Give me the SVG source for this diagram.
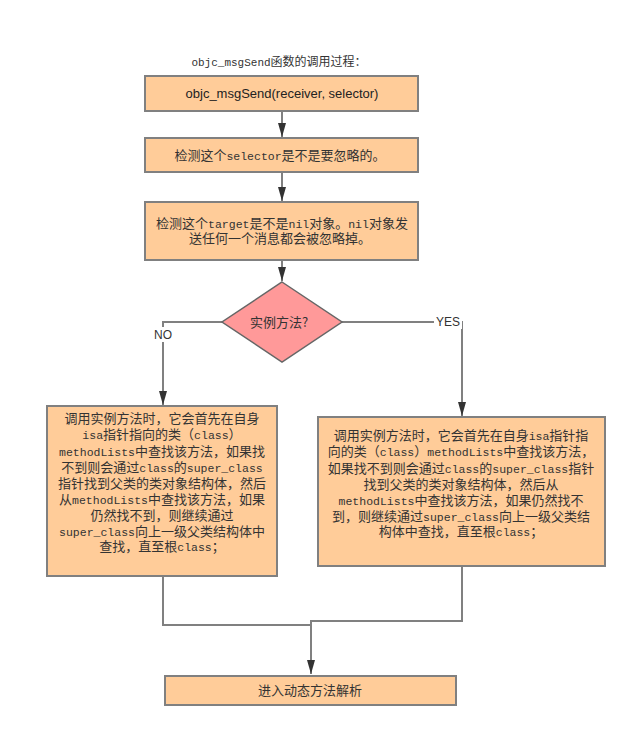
<svg xmlns="http://www.w3.org/2000/svg" width="636" height="736" viewBox="0 0 636 736">
<style>
.box{fill:#FFCC99;stroke:#808080;stroke-width:2}
.dia{fill:#FF9999;stroke:#666666;stroke-width:1.5}
.ln{fill:none;stroke:#808080;stroke-width:2}
.ln2{fill:none;stroke:#333333;stroke-width:1.2}
.t{font-family:"Noto Sans CJK SC","Noto Sans",sans-serif;font-size:13px;fill:#333333;text-anchor:middle}
.m{font-family:"Liberation Mono","DejaVu Sans Mono",monospace;font-size:11.5px}
.s{font-family:"Liberation Sans",Arial,sans-serif;font-size:13px;fill:#222222;text-anchor:middle}
.lbl{font-family:"Liberation Sans",Arial,sans-serif;font-size:12px;fill:#333333;text-anchor:middle}
</style>
<defs>
<marker id="ah" markerWidth="10" markerHeight="14" refX="9" refY="5" orient="auto" markerUnits="userSpaceOnUse" viewBox="0 0 10 10">
<path d="M0,0 L10,5 L0,10 z" fill="#333333"/>
</marker>
<marker id="ah2" viewBox="0 0 14 8" markerWidth="14" markerHeight="8" refX="14" refY="4" orient="auto" markerUnits="userSpaceOnUse">
<path d="M0,0 L14,4 L0,8 z" fill="#333333"/>
</marker>
</defs>
<rect width="636" height="736" fill="#ffffff"/>
<text class="t" x="279" y="66" style="font-size:12px"><tspan class="m" style="font-size:11px">objc_msgSend</tspan>函数的调用过程：</text>
<g id="connectors">
<line class="ln" x1="282" y1="112" x2="282" y2="137" marker-end="url(#ah2)"/>
<line class="ln" x1="282" y1="173" x2="282" y2="201" marker-end="url(#ah2)"/>
<line class="ln" x1="282" y1="261" x2="282" y2="281" marker-end="url(#ah2)"/>
<polyline class="ln" points="222,322 163,322 163,405" marker-end="url(#ah2)"/>
<polyline class="ln" points="342,322 462,322 462,416" marker-end="url(#ah2)"/>
<polyline class="ln" points="163,577 163,625 311,625"/>
<polyline class="ln" points="462,567 462,621 311,621 311,674" marker-end="url(#ah2)"/>
<rect x="152" y="327" width="22" height="15" fill="#ffffff"/>
<text class="lbl" x="163" y="339">NO</text>
<rect x="434" y="315" width="28" height="14" fill="#ffffff"/>
<text class="lbl" x="448" y="326">YES</text>
</g>
<g id="n1">
<rect class="box" x="145" y="76" width="273" height="35"/>
<text class="s" x="282" y="98">objc_msgSend(receiver, selector)</text>
</g>
<g id="n2">
<rect class="box" x="145" y="138" width="273" height="34"/>
<text class="t" x="280" y="160">检测这个<tspan class="m">selector</tspan>是不是要忽略的。</text>
</g>
<g id="n3">
<rect class="box" x="145" y="202" width="273" height="58"/>
<text class="t" x="282" y="228">检测这个<tspan class="m">target</tspan>是不是<tspan class="m">nil</tspan>对象。<tspan class="m">nil</tspan>对象发</text>
<text class="t" x="280" y="243">送任何一个消息都会被忽略掉。</text>
</g>
<g id="n4">
<polygon class="dia" points="282,282 342,322 282,362 222,322"/>
<text class="t" x="279" y="327">实例方法?</text>
</g>
<g id="n5">
<rect class="box" x="47" y="406" width="230" height="170"/>
<text class="t" x="162" y="423">调用实例方法时，它会首先在自身</text>
<text class="t" x="162" y="439"><tspan class="m">isa</tspan>指针指向的类（<tspan class="m">class</tspan>）</text>
<text class="t" x="162" y="456"><tspan class="m">methodLists</tspan>中查找该方法，如果找</text>
<text class="t" x="162" y="472">不到则会通过<tspan class="m">class</tspan>的<tspan class="m">super_class</tspan></text>
<text class="t" x="162" y="488">指针找到父类的类对象结构体，然后</text>
<text class="t" x="162" y="504">从<tspan class="m">methodLists</tspan>中查找该方法，如果</text>
<text class="t" x="162" y="520">仍然找不到，则继续通过</text>
<text class="t" x="162" y="536"><tspan class="m">super_class</tspan>向上一级父类结构体中</text>
<text class="t" x="162" y="551">查找，直至根<tspan class="m">class</tspan>；</text>
</g>
<g id="n6">
<rect class="box" x="318" y="417" width="287" height="149"/>
<text class="t" x="461" y="440">调用实例方法时，它会首先在自身<tspan class="m">isa</tspan>指针指</text>
<text class="t" x="461" y="456">向的类（<tspan class="m">class</tspan>）<tspan class="m">methodLists</tspan>中查找该方法，</text>
<text class="t" x="461" y="473">如果找不到则会通过<tspan class="m">class</tspan>的<tspan class="m">super_class</tspan>指针</text>
<text class="t" x="461" y="489">找到父类的类对象结构体，然后从</text>
<text class="t" x="461" y="505"><tspan class="m">methodLists</tspan>中查找该方法，如果仍然找不</text>
<text class="t" x="461" y="521">到，则继续通过<tspan class="m">super_class</tspan>向上一级父类结</text>
<text class="t" x="461" y="536">构体中查找，直至根<tspan class="m">class</tspan>；</text>
</g>
<g id="n7">
<rect class="box" x="165" y="676" width="291" height="29"/>
<text class="t" x="310" y="695">进入动态方法解析</text>
</g>
</svg>
